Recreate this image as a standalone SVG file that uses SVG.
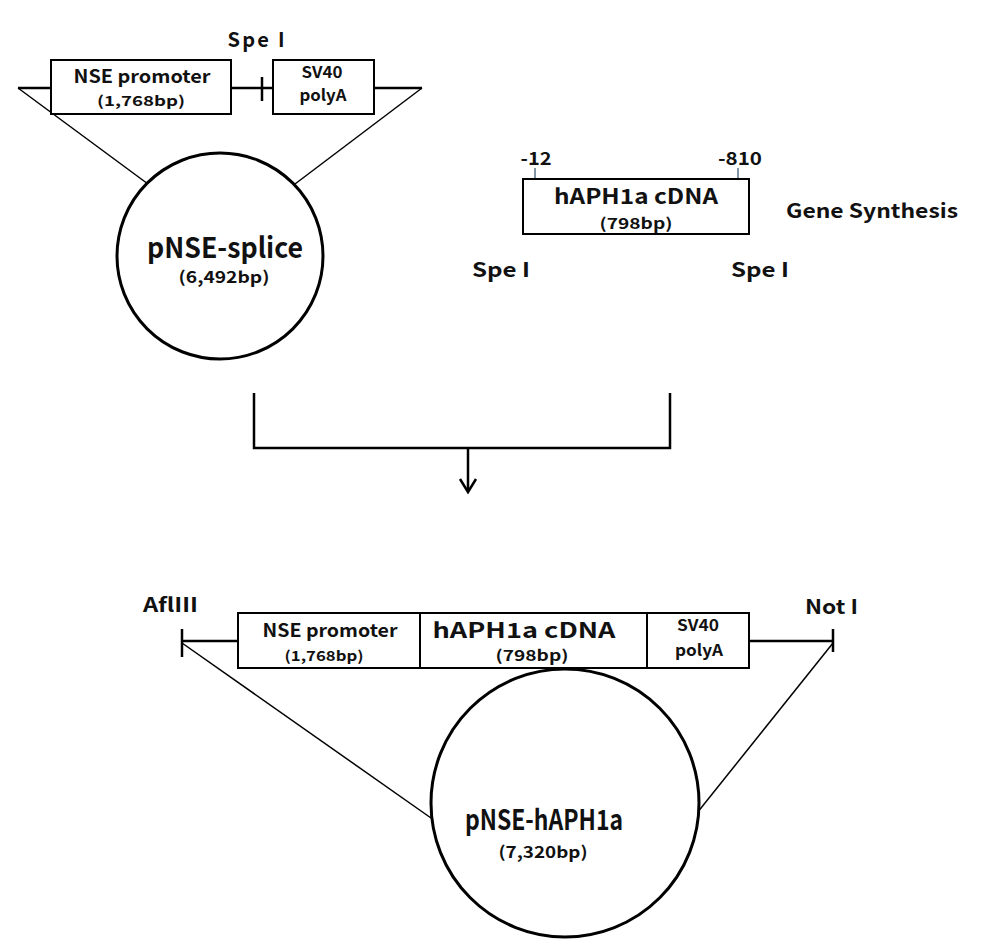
<svg xmlns="http://www.w3.org/2000/svg" width="983" height="952" viewBox="0 0 983 952">
<style>
text{font-family:"Noto Sans CJK KR","Liberation Sans",sans-serif;font-weight:bold;fill:#111;}
.box{fill:#fff;stroke:#000;stroke-width:2;}
.ln{stroke:#000;stroke-width:2.5;fill:none;}
.thin{stroke:#000;stroke-width:1.5;fill:none;}
.circ{fill:#fff;stroke:#000;stroke-width:3;}
.tick{stroke:#5a7088;stroke-width:1.5;}
</style>
<defs>
<marker id="arr" markerWidth="20" markerHeight="20" refX="14" refY="10" orient="auto" markerUnits="userSpaceOnUse" viewBox="0 0 20 20">
<path d="M1,2 L14,10 L1,18" fill="none" stroke="#000" stroke-width="2.5"/>
</marker>
</defs>
<rect width="983" height="952" fill="#fff"/>

<g id="connectors">
<line class="ln" x1="18" y1="88" x2="422" y2="88"/>
<line class="thin" x1="18" y1="88" x2="148" y2="184"/>
<line class="thin" x1="422" y1="88" x2="295" y2="184"/>
<line class="ln" x1="262" y1="77" x2="262" y2="101"/>
<path class="ln" d="M254,393 V448 H670 V393"/>
<line class="ln" x1="468" y1="448" x2="468" y2="492" marker-end="url(#arr)"/>
<line class="ln" x1="182" y1="641" x2="833" y2="641"/>
<line class="ln" x1="182" y1="629" x2="182" y2="657"/>
<line class="ln" x1="833" y1="629" x2="833" y2="652"/>
<line class="thin" x1="182" y1="643" x2="431" y2="818"/>
<line class="thin" x1="833" y1="643" x2="697" y2="813"/>
<line class="tick" x1="535" y1="168" x2="535" y2="179"/>
<line class="tick" x1="738" y1="168" x2="738" y2="179"/>
</g>

<g id="speI-top"><text x="256" y="47" font-size="20" text-anchor="middle" textLength="57">Spe I</text></g>

<g id="nse-promoter-top">
<rect class="box" x="51" y="60" width="180" height="54"/>
<text x="142" y="83" font-size="18" text-anchor="middle" textLength="137" lengthAdjust="spacingAndGlyphs">NSE promoter</text>
<text x="141" y="106" font-size="14" text-anchor="middle" textLength="88" lengthAdjust="spacingAndGlyphs">(1,768bp)</text>
</g>

<g id="sv40-top">
<rect class="box" x="273" y="60" width="101" height="54"/>
<text x="322" y="78" font-size="16" text-anchor="middle" textLength="41" lengthAdjust="spacingAndGlyphs">SV40</text>
<text x="323" y="101" font-size="16" text-anchor="middle" textLength="47" lengthAdjust="spacingAndGlyphs">polyA</text>
</g>

<g id="pnse-splice">
<circle class="circ" cx="220" cy="256" r="103"/>
<text x="225" y="258" font-size="28" text-anchor="middle" textLength="156" lengthAdjust="spacingAndGlyphs">pNSE-splice</text>
<text x="224" y="283" font-size="16" text-anchor="middle" textLength="91" lengthAdjust="spacingAndGlyphs">(6,492bp)</text>
</g>

<g id="haph1a-cdna">
<text x="536" y="165" font-size="18" text-anchor="middle" textLength="31" lengthAdjust="spacingAndGlyphs">-12</text>
<text x="740" y="165" font-size="18" text-anchor="middle" textLength="44" lengthAdjust="spacingAndGlyphs">-810</text>
<rect class="box" x="523" y="179" width="226" height="55"/>
<text x="636" y="204" font-size="21" text-anchor="middle" textLength="164" lengthAdjust="spacingAndGlyphs">hAPH1a cDNA</text>
<text x="636" y="229" font-size="15" text-anchor="middle" textLength="73" lengthAdjust="spacingAndGlyphs">(798bp)</text>
</g>

<g id="gene-synthesis"><text x="786" y="218" font-size="20" textLength="172" lengthAdjust="spacingAndGlyphs">Gene Synthesis</text></g>
<g id="speI-left"><text x="472" y="277" font-size="20" textLength="58" lengthAdjust="spacingAndGlyphs">Spe I</text></g>
<g id="speI-right"><text x="731" y="277" font-size="20" textLength="58" lengthAdjust="spacingAndGlyphs">Spe I</text></g>

<g id="aflIII"><text x="143" y="612" font-size="20" textLength="55" lengthAdjust="spacingAndGlyphs">AflⅢ</text></g>
<g id="notI"><text x="805" y="614" font-size="20" textLength="53" lengthAdjust="spacingAndGlyphs">Not I</text></g>

<g id="nse-promoter-bottom">
<rect class="box" x="238" y="613" width="182" height="55"/>
<text x="330" y="637" font-size="18" text-anchor="middle" textLength="135" lengthAdjust="spacingAndGlyphs">NSE promoter</text>
<text x="324" y="661" font-size="14" text-anchor="middle" textLength="79" lengthAdjust="spacingAndGlyphs">(1,768bp)</text>
</g>

<g id="haph1a-bottom">
<rect class="box" x="420" y="613" width="227" height="55"/>
<text x="524" y="638" font-size="21" text-anchor="middle" textLength="183" lengthAdjust="spacingAndGlyphs">hAPH1a cDNA</text>
<text x="532" y="661" font-size="15" text-anchor="middle" textLength="73" lengthAdjust="spacingAndGlyphs">(798bp)</text>
</g>

<g id="sv40-bottom">
<rect class="box" x="647" y="613" width="102" height="55"/>
<text x="698" y="631" font-size="16" text-anchor="middle" textLength="42" lengthAdjust="spacingAndGlyphs">SV40</text>
<text x="699" y="656" font-size="16" text-anchor="middle" textLength="48" lengthAdjust="spacingAndGlyphs">polyA</text>
</g>

<g id="pnse-haph1a">
<circle class="circ" cx="565" cy="803" r="134"/>
<text x="544" y="830" font-size="28" text-anchor="middle" textLength="158" lengthAdjust="spacingAndGlyphs">pNSE-hAPH1a</text>
<text x="543" y="858" font-size="16" text-anchor="middle" textLength="89" lengthAdjust="spacingAndGlyphs">(7,320bp)</text>
</g>
</svg>
